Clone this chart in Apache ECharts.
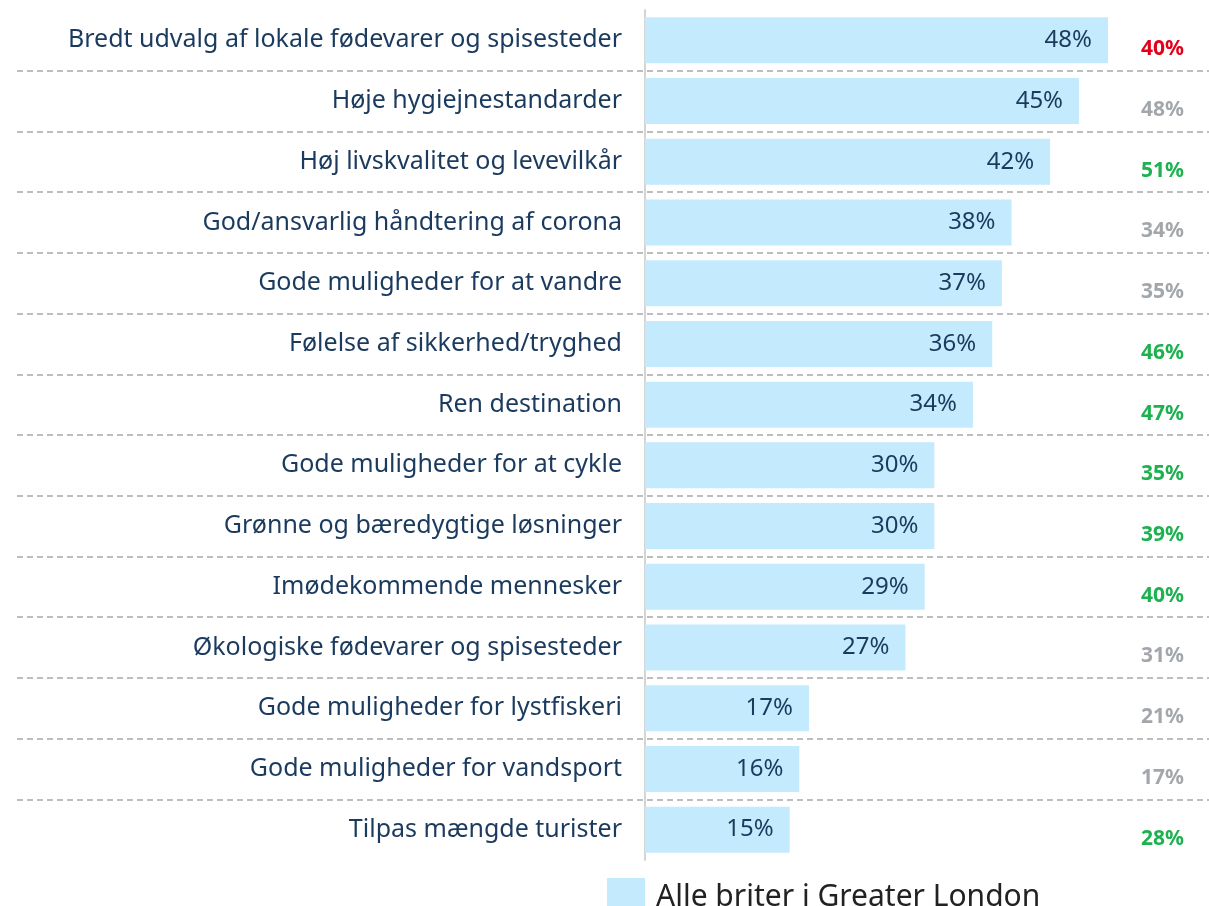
<!DOCTYPE html>
<html lang="da">
<head>
    <meta charset="UTF-8">
    <title>Vigtige faktorer</title>
    <script src="https://cdn.jsdelivr.net/npm/echarts@6/dist/echarts.min.js"></script>
    <style>
        html, body { margin: 0; padding: 0; background: #fff; }
    </style>
</head>
<body>
<div id="box" style="width: 1209px;height: 906px;"></div>
<script>
    var categories = [
        'Bredt udvalg af lokale fødevarer og spisesteder',
        'Høje hygiejnestandarder',
        'Høj livskvalitet og levevilkår',
        'God/ansvarlig håndtering af corona',
        'Gode muligheder for at vandre',
        'Følelse af sikkerhed/tryghed',
        'Ren destination',
        'Gode muligheder for at cykle',
        'Grønne og bæredygtige løsninger',
        'Imødekommende mennesker',
        'Økologiske fødevarer og spisesteder',
        'Gode muligheder for lystfiskeri',
        'Gode muligheder for vandsport',
        'Tilpas mængde turister'
    ];
    // Alle briter i Greater London
    var londonValues = [48, 45, 42, 38, 37, 36, 34, 30, 30, 29, 27, 17, 16, 15];
    // sammenligningstal i højre kolonne og deres farve
    var compareValues = [40, 48, 51, 34, 35, 46, 47, 35, 39, 40, 31, 21, 17, 28];
    var compareTone = ['red', 'grey', 'green', 'grey', 'grey', 'green', 'green',
        'green', 'green', 'green', 'grey', 'grey', 'grey', 'green'];

    var navy = '#1a3a5e';
    var font = 'Noto Sans';

    var myChart = echarts.init(document.getElementById('box'));
    var option = {
        animation: false,
        textStyle: { fontFamily: font },
        grid: { left: 17, right: 0, top: 10, bottom: 46, containLabel: false, outerBoundsMode: 'none' },
        legend: {
            left: 602,
            top: 873,
            icon: 'rect',
            itemWidth: 38,
            itemHeight: 38,
            textStyle: { fontSize: 30, color: '#222', fontFamily: font, padding: [0, 0, 0, 6] },
            data: ['Alle briter i Greater London']
        },
        xAxis: {
            type: 'value',
            min: -65.1,
            max: 58.47,
            axisLabel: { show: false },
            axisTick: { show: false },
            axisLine: { show: false },
            splitLine: { show: false }
        },
        yAxis: [{
            type: 'category',
            inverse: true,
            data: categories,
            offset: -628,
            axisLine: { onZero: false, lineStyle: { color: '#d4d4d4', width: 2 } },
            axisTick: { show: false },
            axisLabel: { color: navy, fontSize: 25, margin: 23, fontFamily: font },
            splitLine: {
                show: true,
                showMinLine: false,
                showMaxLine: false,
                lineStyle: { color: '#a9a9a9', type: [6, 4], width: 1.5 }
            }
        }, {
            type: 'category',
            inverse: true,
            position: 'right',
            data: compareValues,
            axisLine: { show: false },
            axisTick: { show: false },
            axisLabel: {
                inside: true,
                margin: 25,
                padding: [18, 0, 0, 0],
                formatter: function (v, i) {
                    return '{' + compareTone[i] + '|' + v + '%}';
                },
                rich: {
                    red: { color: '#e3001b', fontSize: 21, fontWeight: 'bold', fontFamily: font },
                    grey: { color: '#a3a7ab', fontSize: 21, fontWeight: 'bold', fontFamily: font },
                    green: { color: '#1db14f', fontSize: 21, fontWeight: 'bold', fontFamily: font }
                }
            }
        }],
        series: [{
            name: 'Alle briter i Greater London',
            type: 'bar',
            data: londonValues,
            barWidth: 46,
            itemStyle: { color: '#c4eafd' },
            label: {
                show: true,
                position: 'insideRight',
                distance: 16,
                color: navy,
                fontSize: 24,
                fontFamily: font,
                formatter: '{c}%'
            }
        }]
    };
    myChart.setOption(option);
</script>
</body>
</html>
